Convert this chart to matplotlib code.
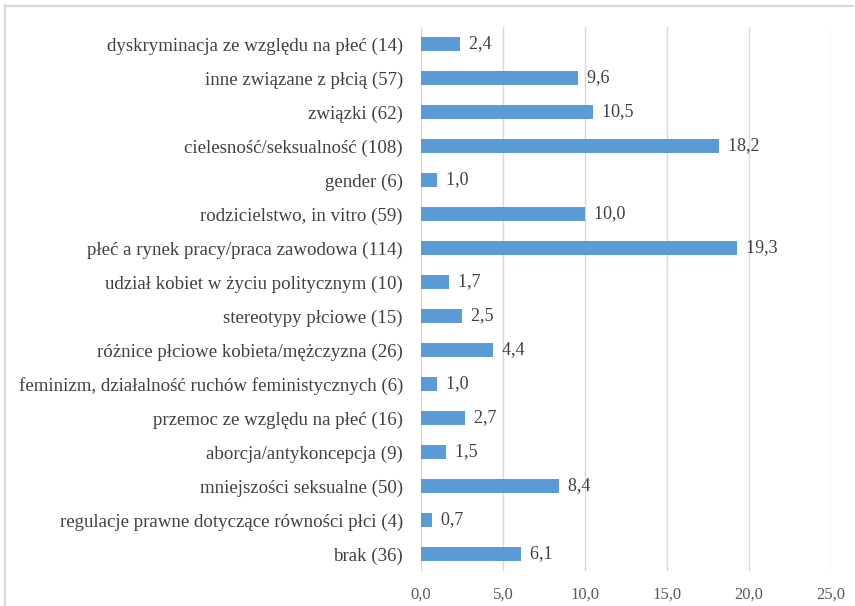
import matplotlib
matplotlib.use("Agg")
import matplotlib.pyplot as plt
from matplotlib.lines import Line2D

categories = [
    "dyskryminacja ze względu na płeć (14)",
    "inne związane z płcią (57)",
    "związki (62)",
    "cielesność/seksualność (108)",
    "gender (6)",
    "rodzicielstwo, in vitro (59)",
    "płeć a rynek pracy/praca zawodowa (114)",
    "udział kobiet w życiu politycznym (10)",
    "stereotypy płciowe (15)",
    "różnice płciowe kobieta/mężczyzna (26)",
    "feminizm, działalność ruchów feministycznych (6)",
    "przemoc ze względu na płeć (16)",
    "aborcja/antykoncepcja (9)",
    "mniejszości seksualne (50)",
    "regulacje prawne dotyczące równości płci (4)",
    "brak (36)",
]
values = [2.4, 9.6, 10.5, 18.2, 1.0, 10.0, 19.3, 1.7, 2.5, 4.4, 1.0, 2.7, 1.5, 8.4, 0.7, 6.1]
xticks = [0, 5, 10, 15, 20, 25]

plt.rcParams['font.family'] = ['Liberation Serif', 'DejaVu Serif']

fig = plt.figure(figsize=(8.55, 6.06), dpi=100)
ax = fig.add_axes([421/855, 1-571/606, (830.5-421)/855, (571-27)/606])

y = list(range(len(categories)))[::-1]
ax.barh(y, values, height=0.4, color="#5B9BD5", zorder=3)
for yi, v in zip(y, values):
    ax.text(v, yi, "  " + f"{v:.1f}".replace(".", ","), va="center", ha="left",
            fontsize=13, color="#404040", zorder=4)

ax.set_xlim(0, 25)
ax.set_ylim(-0.5, len(categories) - 0.5)
ax.set_yticks(y)
ax.set_yticklabels(categories, fontsize=13.6, color="#404040")
ax.set_xticks(xticks)
ax.set_xticklabels([f"{t:.1f}".replace(".", ",") for t in xticks], fontsize=12, color="#595959")
ax.tick_params(axis="both", length=0)
ax.tick_params(axis="x", pad=11)
ax.tick_params(axis="y", pad=13)
for s in ax.spines.values():
    s.set_visible(False)
ax.grid(axis="x", color="#D9D9D9", linewidth=1, zorder=0)

fig.add_artist(Line2D([5/855, 5/855], [0, 1-5/606], transform=fig.transFigure, color="#D9D9D9", lw=1.5))
fig.add_artist(Line2D([5/855, 853/855], [1-6/606, 1-6/606], transform=fig.transFigure, color="#D9D9D9", lw=1.5))

fig.savefig("out.png", dpi=100)
